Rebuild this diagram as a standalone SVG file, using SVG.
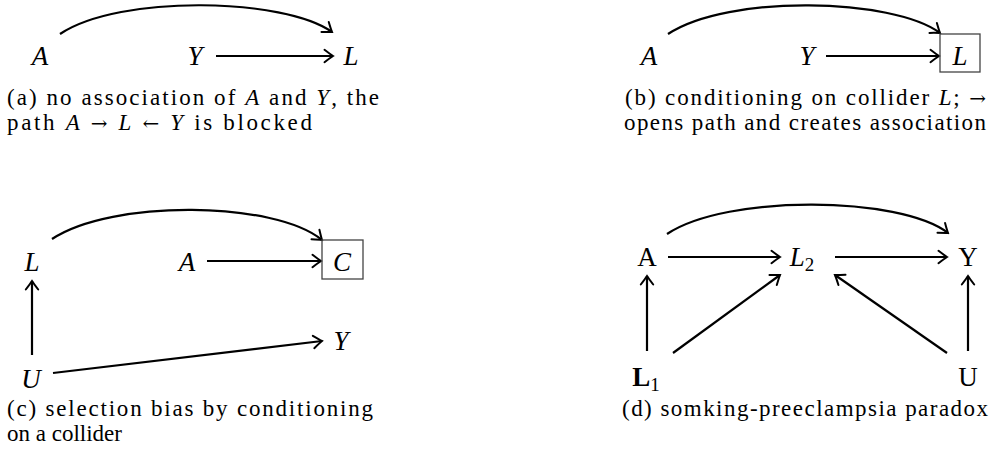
<svg xmlns="http://www.w3.org/2000/svg" width="992" height="462" viewBox="0 0 992 462">
<style>
.lbl{font-family:"Liberation Serif","DejaVu Serif",serif;font-size:27px;fill:#000;text-anchor:middle}
.m{font-style:italic}
.cap{font-family:"Liberation Serif","DejaVu Serif",serif;font-size:23px;fill:#000}
.ar{font-family:"DejaVu Serif",serif;font-size:20px}
.e{fill:none;stroke:#000;stroke-width:2.2;marker-end:url(#ah)}
.box{fill:none;stroke:#444;stroke-width:1.3}
</style>
<defs>
<marker id="ah" viewBox="-11 -8 13 16" refX="0" refY="0" markerWidth="13" markerHeight="16" orient="auto" markerUnits="userSpaceOnUse">
<path d="M -8.5 -6.2 Q -2.2 -1.4 0 0 Q -2.2 1.4 -8.5 6.2" fill="none" stroke="#000" stroke-width="2" stroke-linecap="round"/>
</marker>
</defs>

<g id="edges">
<path class="e" d="M 60 34 C 120 -6, 285 -2, 332 32"/>
<line class="e" x1="216" y1="56" x2="333" y2="56"/>
<path class="e" d="M 668 34 C 728 -6, 893 -2, 940 33"/>
<line class="e" x1="826" y1="56" x2="939" y2="56"/>
<path class="e" d="M 52 239 C 112 199, 275 201, 322 240"/>
<line class="e" x1="207" y1="261" x2="321" y2="261"/>
<line class="e" x1="32" y1="355" x2="32" y2="281"/>
<line class="e" x1="53" y1="373" x2="322" y2="341"/>
<path class="e" d="M 667 234 C 727 194, 900 196, 948 233"/>
<line class="e" x1="668" y1="257" x2="780" y2="257"/>
<line class="e" x1="835" y1="257" x2="947" y2="257"/>
<line class="e" x1="647" y1="351" x2="647" y2="276"/>
<line class="e" x1="968" y1="351" x2="968" y2="276"/>
<line class="e" x1="673" y1="353" x2="780" y2="275"/>
<line class="e" x1="947" y1="353" x2="835" y2="275"/>
</g>

<g id="a-A"><text class="lbl m" x="40" y="65">A</text></g>
<g id="a-Y"><text class="lbl m" x="195" y="65">Y</text></g>
<g id="a-L"><text class="lbl m" x="351" y="65">L</text></g>
<g id="a-caption">
<text class="cap" x="7" y="105" textLength="372" lengthAdjust="spacing">(a) no association of <tspan font-style="italic">A</tspan> and <tspan font-style="italic">Y</tspan>, the</text>
<text class="cap" x="7" y="130" textLength="305" lengthAdjust="spacing">path <tspan font-style="italic">A</tspan> <tspan class="ar">→</tspan> <tspan font-style="italic">L</tspan> <tspan class="ar">←</tspan> <tspan font-style="italic">Y</tspan> is blocked</text>
</g>

<g id="b-A"><text class="lbl m" x="649" y="65">A</text></g>
<g id="b-Y"><text class="lbl m" x="807" y="65">Y</text></g>
<g id="b-L"><rect class="box" x="940" y="34" width="40" height="38"/><text class="lbl m" x="960" y="65">L</text></g>
<g id="b-caption">
<text class="cap" x="625" y="105" textLength="361" lengthAdjust="spacing">(b) conditioning on collider <tspan font-style="italic">L</tspan>; <tspan class="ar">→</tspan></text>
<text class="cap" x="624" y="130" textLength="362" lengthAdjust="spacing">opens path and creates association</text>
</g>

<g id="c-L"><text class="lbl m" x="32" y="271">L</text></g>
<g id="c-A"><text class="lbl m" x="187" y="271">A</text></g>
<g id="c-C"><rect class="box" x="322" y="240" width="41" height="39"/><text class="lbl m" x="342" y="271">C</text></g>
<g id="c-U"><text class="lbl m" x="31" y="388">U</text></g>
<g id="c-Y"><text class="lbl m" x="341" y="350">Y</text></g>
<g id="c-caption">
<text class="cap" x="7" y="416" textLength="366" lengthAdjust="spacing">(c) selection bias by conditioning</text>
<text class="cap" x="7" y="441">on a collider</text>
</g>

<g id="d-A"><text class="lbl" x="647" y="266">A</text></g>
<g id="d-L2"><text class="lbl" x="802" y="266"><tspan font-style="italic">L</tspan><tspan font-size="19" dy="5">2</tspan></text></g>
<g id="d-Y"><text class="lbl" x="968" y="266">Y</text></g>
<g id="d-L1"><text class="lbl" x="646" y="386"><tspan font-weight="bold">L</tspan><tspan font-size="19" dy="5">1</tspan></text></g>
<g id="d-U"><text class="lbl" x="968" y="386">U</text></g>
<g id="d-caption">
<text class="cap" x="622" y="416" textLength="366" lengthAdjust="spacing">(d) somking-preeclampsia paradox</text>
</g>
</svg>
